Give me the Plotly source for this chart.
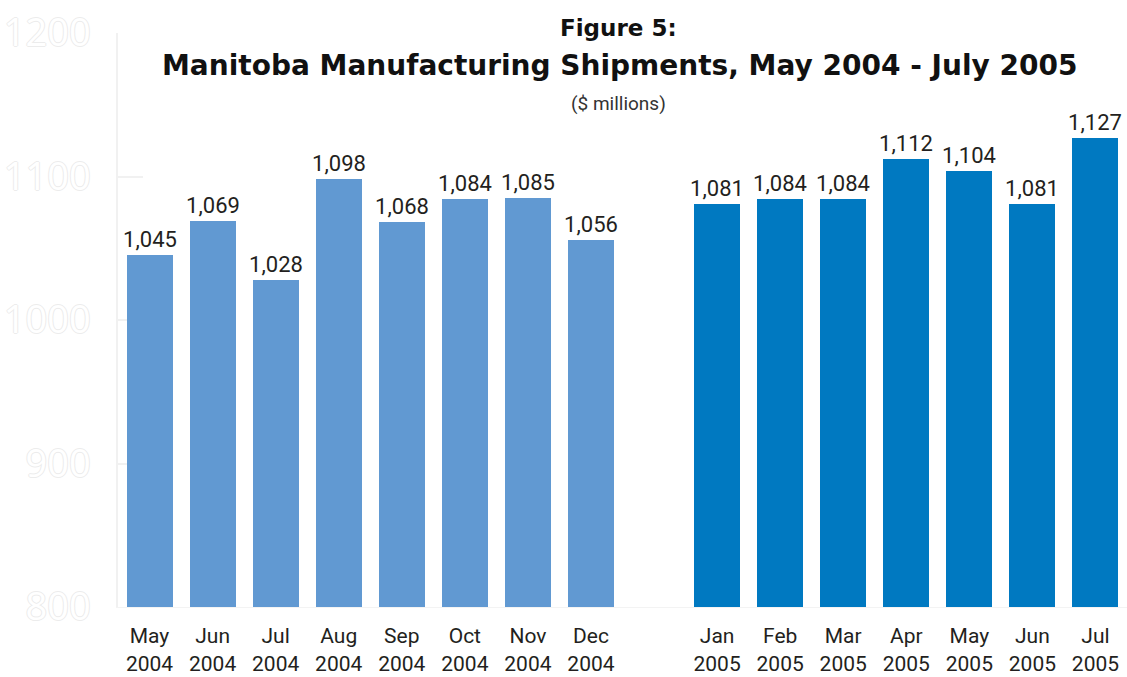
import plotly.graph_objects as go

# Monthly Manitoba manufacturing shipments ($ millions)
months_2004 = ["May", "Jun", "Jul", "Aug", "Sep", "Oct", "Nov", "Dec"]
values_2004 = [1045, 1069, 1028, 1098, 1068, 1084, 1085, 1056]
months_2005 = ["Jan", "Feb", "Mar", "Apr", "May", "Jun", "Jul"]
values_2005 = [1081, 1084, 1084, 1112, 1104, 1081, 1127]

y_ticks = [800, 900, 1000, 1100, 1200]

# Slot positions: 2004 months first, one empty slot, then 2005 months
x_2004 = list(range(len(months_2004)))
x_2005 = [len(months_2004) + 1 + i for i in range(len(months_2005))]

labels_2004 = [f"{m}<br>2004" for m in months_2004]
labels_2005 = [f"{m}<br>2005" for m in months_2005]

label_font = dict(family="Roboto", size=22, color="#231f20")


def bar(x, y, color):
    return go.Bar(
        x=x, y=y,
        marker=dict(color=color, line=dict(width=0)),
        width=0.73,
        text=[f"{v:,}" for v in y],
        textposition="outside",
        textfont=label_font,
        constraintext="none",
        cliponaxis=False,
        hoverinfo="skip",
    )


fig = go.Figure()
fig.add_trace(bar(x_2004, values_2004, "#6199d2"))
fig.add_trace(bar(x_2005, values_2005, "#0079c1"))

fig.update_layout(
    width=1127, height=677,
    margin=dict(l=118, r=0, t=33, b=70, autoexpand=False),
    paper_bgcolor="white", plot_bgcolor="white",
    showlegend=False,
    bargap=0,
)

fig.update_xaxes(
    range=[-0.5, len(months_2004) + len(months_2005) + 0.5],
    tickvals=x_2004 + x_2005,
    ticktext=labels_2004 + labels_2005,
    tickfont=dict(family="Roboto", size=21, color="#231f20"),
    showgrid=False, zeroline=False,
    showline=True, linecolor="#f3f3f3", linewidth=1,
    ticks="", ticklabelstandoff=10,
    automargin=False,
)

# hollow, very pale value scale on the left
outline = "#ececec"
fig.update_yaxes(
    range=[800, 1200],
    tickvals=y_ticks,
    ticktext=[str(v) for v in y_ticks],
    tickfont=dict(
        family="Open Sans", size=38, color="white",
        shadow=f"1px 0 0 {outline}, -1px 0 0 {outline}, 0 1px 0 {outline}, 0 -1px 0 {outline}",
    ),
    showgrid=False, zeroline=False,
    showline=True, linecolor="#f1f1f1", linewidth=1.5,
    ticks="inside", ticklen=25, tickcolor="#f1f1f1", tickwidth=1.5,
    ticklabelstandoff=18,
    layer="below traces",
    automargin=False,
)

fig.add_annotation(text="<b>Figure 5:</b>", xref="paper", yref="paper",
                   x=(618 - 118) / 1009, y=(677 - 28 - 70) / 574,
                   showarrow=False, xanchor="center", yanchor="middle",
                   font=dict(family="DejaVu Sans", size=23, color="#111111"))
fig.add_annotation(text="<b>Manitoba Manufacturing Shipments, May 2004 - July 2005</b>",
                   xref="paper", yref="paper",
                   x=(619 - 118) / 1009, y=(677 - 65 - 70) / 574,
                   showarrow=False, xanchor="center", yanchor="middle",
                   font=dict(family="DejaVu Sans", size=28, color="#111111"))
fig.add_annotation(text="($ millions)", xref="paper", yref="paper",
                   x=(618 - 118) / 1009, y=(677 - 103 - 70) / 574,
                   showarrow=False, xanchor="center", yanchor="middle",
                   font=dict(family="Roboto", size=19, color="#333333"))

fig.write_html("out.html")
